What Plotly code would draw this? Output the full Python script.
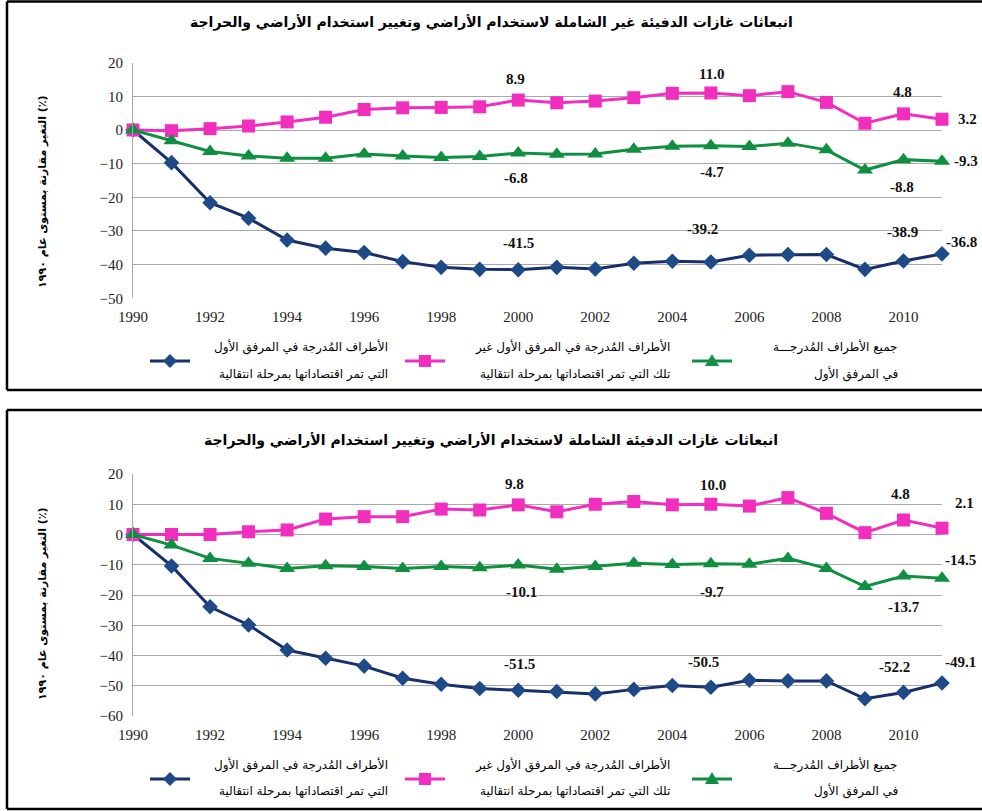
import plotly.graph_objects as go

W, H = 982, 811

years = list(range(1990, 2012))
x_ticks = list(range(1990, 2011, 2))

# Top panel (excluding LULUCF)
top_eit = [0, -9.7, -21.6, -26.2, -32.7, -35.1, -36.4, -39.1, -40.8, -41.4, -41.5,
           -40.8, -41.3, -39.6, -39.0, -39.2, -37.2, -37.0, -37.0, -41.4, -38.9, -36.8]
top_non_eit = [0, -0.2, 0.4, 1.2, 2.4, 3.8, 6.1, 6.6, 6.7, 6.9, 8.9,
               8.1, 8.6, 9.6, 10.9, 11.0, 10.2, 11.4, 8.2, 2.0, 4.8, 3.2]
top_all = [0, -3.2, -6.4, -7.7, -8.4, -8.4, -7.1, -7.7, -8.2, -7.9, -6.8,
           -7.2, -7.1, -5.7, -4.8, -4.7, -4.9, -3.9, -5.9, -11.9, -8.8, -9.3]

# Bottom panel (including LULUCF)
bot_eit = [0, -10.4, -23.9, -29.9, -38.2, -40.9, -43.5, -47.5, -49.5, -50.9, -51.5,
           -51.9, -52.7, -51.2, -49.9, -50.5, -48.2, -48.4, -48.4, -54.3, -52.2, -49.1]
bot_non_eit = [0, 0, 0, 0.9, 1.5, 5.1, 5.9, 5.9, 8.4, 8.1, 9.8,
               7.5, 10.0, 10.9, 9.8, 10.0, 9.4, 12.2, 7.0, 0.6, 4.8, 2.1]
bot_all = [0, -3.5, -7.9, -9.5, -11.2, -10.3, -10.6, -11.2, -10.6, -11.0, -10.1,
           -11.5, -10.6, -9.5, -9.9, -9.7, -9.8, -7.9, -11.2, -17.2, -13.7, -14.5]

labeled_years = [2000, 2005, 2010, 2011]

title_top = "انبعاثات غازات الدفيئة غير الشاملة لاستخدام الأراضي وتغيير استخدام الأراضي والحراجة"
title_bot = "انبعاثات غازات الدفيئة الشاملة لاستخدام الأراضي وتغيير استخدام الأراضي والحراجة"
y_title = "التغير مقارنة بمستوى عام ١٩٩٠ (٪)"
name_eit = ["الأطراف المُدرجة في المرفق الأول", "التي تمر اقتصاداتها بمرحلة انتقالية"]
name_non_eit = ["الأطراف المُدرجة في المرفق الأول غير", "تلك التي تمر اقتصاداتها بمرحلة انتقالية"]
name_all = ["جميع الأطراف المُدرجـــة", "في المرفق الأول"]

# styles
BLUE_L, BLUE_M = "#172F6B", "#1F4A88"
PINK = "#F22EBF"
GREEN = "#0F8F40"
GRID = "#A8A8A8"
SERIF = "Liberation Serif"
ARAB = "DejaVu Sans"


def px(x):
    return x / W


def py(y):
    return 1 - y / H


fig = go.Figure()

panels = [
    dict(xa="x", ya="y", eit=top_eit, non=top_non_eit, all=top_all),
    dict(xa="x2", ya="y2", eit=bot_eit, non=bot_non_eit, all=bot_all),
]

for p in panels:
    fig.add_trace(go.Scatter(x=years, y=p["eit"], xaxis=p["xa"], yaxis=p["ya"], mode="lines+markers",
                             line=dict(color=BLUE_L, width=3),
                             marker=dict(symbol="diamond", size=12, color=BLUE_M),
                             cliponaxis=False, showlegend=False))
    fig.add_trace(go.Scatter(x=years, y=p["non"], xaxis=p["xa"], yaxis=p["ya"], mode="lines+markers",
                             line=dict(color=PINK, width=3),
                             marker=dict(symbol="square", size=13, color=PINK),
                             cliponaxis=False, showlegend=False))
    fig.add_trace(go.Scatter(x=years, y=p["all"], xaxis=p["xa"], yaxis=p["ya"], mode="lines+markers",
                             line=dict(color=GREEN, width=3),
                             marker=dict(symbol="triangle-up", size=14, color=GREEN),
                             cliponaxis=False, showlegend=False))

# data label offsets (dx, dy in pixels, dy positive = down), per panel/series/year
offsets = {
    ("x", "eit"): {2000: (0, -27), 2005: (-8, -33), 2010: (-1, -29), 2011: (19, -12)},
    ("x", "non"): {2000: (-3, -21), 2005: (1, -19), 2010: (-1, -22), 2011: (25, 0)},
    ("x", "all"): {2000: (-2, 25), 2005: (1, 26), 2010: (-1, 27), 2011: (24, 0)},
    ("x2", "eit"): {2000: (1, -26), 2005: (-7, -25), 2010: (-9, -25), 2011: (18, -21)},
    ("x2", "non"): {2000: (-4, -21), 2005: (2, -19), 2010: (-3, -26), 2011: (22, -25)},
    ("x2", "all"): {2000: (3, 27), 2005: (1, 28), 2010: (1, 31), 2011: (18, -18)},
}

annotations = []
for p in panels:
    for key in ["eit", "non", "all"]:
        vals = p[key]
        for yr in labeled_years:
            v = vals[years.index(yr)]
            dx, dy = offsets[(p["xa"], key)][yr]
            annotations.append(dict(x=yr, y=v, xref=p["xa"], yref=p["ya"], text=f"<b>{v:.1f}</b>",
                                    showarrow=False, xshift=dx, yshift=-dy,
                                    font=dict(family=SERIF, size=15, color="#111111"),
                                    xanchor="center", yanchor="middle"))

# titles
for ty, txt in [(22, title_top), (440, title_bot)]:
    annotations.append(dict(x=px(491), y=py(ty), xref="paper", yref="paper", text=f"<b>{txt}</b>",
                            showarrow=False, xanchor="center", yanchor="middle",
                            font=dict(family=ARAB, size=14, color="black")))
# y titles
for cy in [192, 604]:
    annotations.append(dict(x=px(42), y=py(cy), xref="paper", yref="paper", text=f"<b>{y_title}</b>",
                            textangle=-90, showarrow=False, xanchor="center", yanchor="middle",
                            font=dict(family=ARAB, size=11, color="black")))

# legends (manual)
shapes = []
legend_items = [
    (name_eit, 390, 170, "diamond", BLUE_L, BLUE_M),
    (name_non_eit, 672, 425, "square", PINK, PINK),
    (name_all, 900, 712, "triangle", GREEN, GREEN),
]
for (l1_y, mk_y, l2_y) in [(347, 361, 374), (765, 779, 791)]:
    for names, right, mx, sym, lc, mc in legend_items:
        annotations.append(dict(x=px(right), y=py(l1_y), xref="paper", yref="paper", text=names[0],
                                showarrow=False, xanchor="right", yanchor="middle",
                                font=dict(family=ARAB, size=12, color="black")))
        annotations.append(dict(x=px(right), y=py(l2_y), xref="paper", yref="paper", text=names[1],
                                showarrow=False, xanchor="right", yanchor="middle",
                                font=dict(family=ARAB, size=12, color="black")))
        shapes.append(dict(type="line", xref="paper", yref="paper", x0=px(mx - 20), x1=px(mx + 20),
                           y0=py(mk_y), y1=py(mk_y), line=dict(color=lc, width=3)))
        if sym == "square":
            shapes.append(dict(type="rect", xref="paper", yref="paper", x0=px(mx - 6), x1=px(mx + 6),
                               y0=py(mk_y - 6), y1=py(mk_y + 6), fillcolor=mc, line=dict(width=0)))
        elif sym == "diamond":
            path = (f"M {px(mx)} {py(mk_y - 7)} L {px(mx + 7)} {py(mk_y)} L {px(mx)} {py(mk_y + 7)} "
                    f"L {px(mx - 7)} {py(mk_y)} Z")
            shapes.append(dict(type="path", xref="paper", yref="paper", path=path, fillcolor=mc,
                               line=dict(width=0)))
        else:
            path = (f"M {px(mx)} {py(mk_y - 7)} L {px(mx + 7)} {py(mk_y + 5)} "
                    f"L {px(mx - 7)} {py(mk_y + 5)} Z")
            shapes.append(dict(type="path", xref="paper", yref="paper", path=path, fillcolor=mc,
                               line=dict(width=0)))

# panel frames (open on the right, where the reference is cut off)
for (top, bot) in [(1.5, 390), (410, 809)]:
    for (x0, y0, x1, y1) in [(7, top, 982, top), (7, bot, 982, bot), (7, top, 7, bot)]:
        shapes.append(dict(type="line", xref="paper", yref="paper", x0=px(x0), x1=px(x1),
                           y0=py(y0), y1=py(y1), line=dict(color="black", width=2.5), layer="above"))

axis_common_x = dict(range=[1990, 2011], tickvals=x_ticks, ticktext=[str(t) for t in x_ticks],
                     showgrid=False, zeroline=False, showline=False, ticks="", automargin=False,
                     tickfont=dict(family=SERIF, size=15, color="#222222"), ticklabelstandoff=8,
                     fixedrange=True)
axis_common_y = dict(showgrid=True, gridcolor=GRID, gridwidth=1, zeroline=False, automargin=False,
                     showline=True, linecolor=GRID, linewidth=1, ticks="",
                     tickfont=dict(family=SERIF, size=15, color="#222222"), ticklabelstandoff=6,
                     fixedrange=True)

fig.update_layout(
    template="none",
    width=W, height=H,
    margin=dict(l=0, r=0, t=0, b=0, autoexpand=False),
    paper_bgcolor="white", plot_bgcolor="white",
    showlegend=False,
    hovermode=False,
    xaxis=dict(domain=[px(133), px(942)], anchor="y", **axis_common_x),
    yaxis=dict(domain=[py(298.3), py(62.7)], anchor="x", range=[-50, 20], dtick=10, **axis_common_y),
    xaxis2=dict(domain=[px(133), px(942)], anchor="y2", **axis_common_x),
    yaxis2=dict(domain=[py(716), py(474)], anchor="x2", range=[-60, 20], dtick=10, **axis_common_y),
    annotations=annotations,
    shapes=shapes,
)

# remove the default page margin so the 982x811 figure fills the window exactly
page_fix = ("document.body.style.margin='0';"
            "document.body.style.overflow='hidden';"
            "document.documentElement.style.overflow='hidden';")

fig.write_html("out.html", post_script=page_fix, config={"displayModeBar": False})
